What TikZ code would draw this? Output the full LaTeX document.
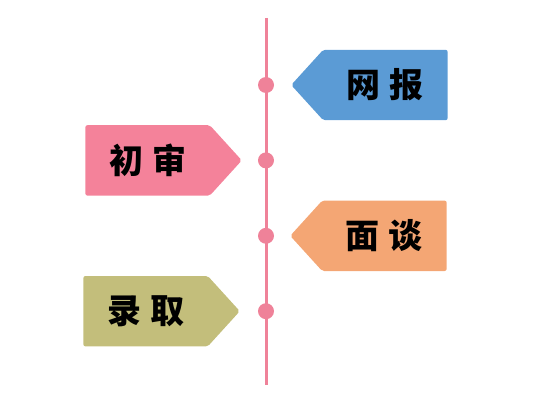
\documentclass[tikz,border=0pt]{standalone}
\usepackage{fontspec}
\usepackage{xcolor}
\usetikzlibrary{positioning, backgrounds}
\newfontfamily\cjk{Noto Sans CJK SC}
\definecolor{spinepink}{HTML}{EF8299}
\definecolor{tagblue}{HTML}{5B9BD5}
\definecolor{tagpink}{HTML}{F4829A}
\definecolor{tagorange}{HTML}{F4A674}
\definecolor{tagolive}{HTML}{C3BE7B}
\tikzstyle{tag} = [rectangle, minimum width=124pt, minimum height=70pt, inner sep=0pt, text centered, font=\cjk\bfseries\fontsize{34}{34}\selectfont]
\tikzstyle{dot} = [circle, minimum size=16pt, inner sep=0pt, fill=spinepink]
\tikzstyle{spine} = [line width=3pt, draw=spinepink]
\tikzstyle{tagfill} = [rounded corners=2pt]

\begin{document}
\begin{tikzpicture}[x=1pt, y=-1pt, node distance=48pt]
\useasboundingbox (0,0) rectangle (538,404);

% Spine
\coordinate (top) at (266,18);
\coordinate (bottom) at (266,385);
\draw[spine] (top) -- (bottom);

\node (dot1) [dot] at (266,85) {};
\node (dot2) [dot, below=59pt of dot1] {};
\node (dot3) [dot, below=59pt of dot2] {};
\node (dot4) [dot, below=59pt of dot3] {};

% Tags
\node (web) [tag, right=49pt of dot1] {网\hspace{9pt}报};
\node (review) [tag, left=of dot2] {初\hspace{9pt}审};
\node (talk) [tag, right=48pt of dot3] {面\hspace{9pt}谈};
\node (admit) [tag, left=50pt of dot4] {录\hspace{9pt}取};

\begin{scope}[on background layer]
\fill[tagfill, tagblue] (web.north east) -- (web.north west) -- ([xshift=-32pt]web.west) -- (web.south west) -- (web.south east) -- cycle;
\fill[tagfill, tagpink] (review.north west) -- (review.north east) -- ([xshift=32pt]review.east) -- (review.south east) -- (review.south west) -- cycle;
\fill[tagfill, tagorange] (talk.north east) -- (talk.north west) -- ([xshift=-32pt]talk.west) -- (talk.south west) -- (talk.south east) -- cycle;
\fill[tagfill, tagolive] (admit.north west) -- (admit.north east) -- ([xshift=32pt]admit.east) -- (admit.south east) -- (admit.south west) -- cycle;
\end{scope}

\end{tikzpicture}
\end{document}
